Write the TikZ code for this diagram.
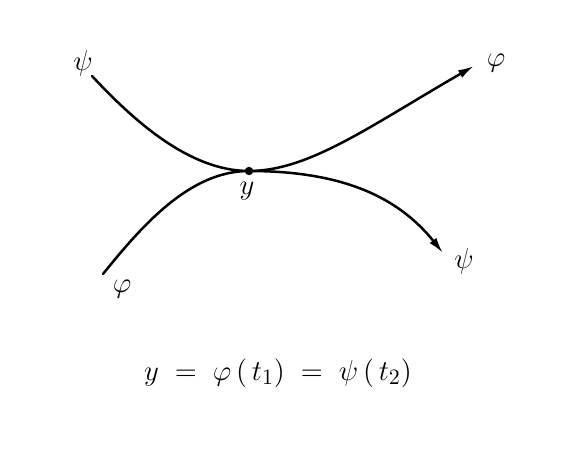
\documentclass[tikz,border=0pt]{standalone}
\usepackage{amsmath,amssymb}
\usepackage{tikz}
\usetikzlibrary{arrows.meta,positioning,calc}

\begin{document}
\begin{tikzpicture}[
  x=0.5pt, y=0.5pt,
  curve/.style={line width=1.25pt, line cap=round},
  arrow/.style={curve, -{Latex[length=2.8mm,width=1.5mm]}},
  tag/.style={font=\fontsize{15}{17}\selectfont, inner sep=1pt},
  dot/.style={circle, fill=black, inner sep=0pt, minimum size=4.2pt}
]
\useasboundingbox (0,0) rectangle (584,455);
% points of the two curves
\coordinate (psiA) at (92,379);
\coordinate (psiB) at (443,202);
\coordinate (phiA) at (103,181);
\coordinate (phiB) at (474,389);
\node[dot] (y) at (249,284) {};
% curves
\draw[arrow] (psiA) .. controls ($(psiA)+(41,-44)$) and ($(y)+(-60,0)$) .. (y.center)
  .. controls ($(y)+(95,0)$) and ($(psiB)+(-44,55)$) .. (psiB);
\draw[arrow] (phiA) .. controls ($(phiA)+(38,47)$) and ($(y)+(-60,0)$) .. (y.center)
  .. controls ($(y)+(60,0)$) and ($(phiB)+(-104,-60)$) .. (phiB);
% labels
\node[tag] (psiAlab) at (83,392) {$\psi$};
\node[tag] (phiBlab) at (496,392) {$\varphi$};
\node[tag] (phiAlab) at (122,166) {$\varphi$};
\node[tag] (psiBlab) at (464,194) {$\psi$};
\node[tag] (ylab) at (247,264) {$y$};
\node[tag] (eq) at (278,82) {$y \;=\; \varphi\,(\,t_1) \;=\; \psi\,(\,t_2)$};
\end{tikzpicture}
\end{document}
